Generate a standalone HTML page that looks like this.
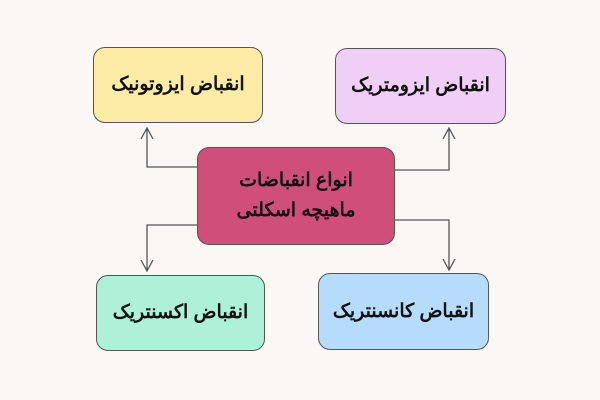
<!DOCTYPE html>
<html><head><meta charset="utf-8"><style>
body{margin:0;width:600px;height:400px;background:#fbf7f5;overflow:hidden;position:relative;font-family:"Liberation Sans","Noto Sans CJK SC",sans-serif}
.b{position:absolute;border:1.5px solid #555;border-radius:12px;display:flex;align-items:center;justify-content:center;text-align:center;font-weight:bold;font-size:19px;color:#111;direction:rtl;line-height:30px;box-sizing:border-box}
</style></head><body>
<svg width="600" height="400" style="position:absolute;left:0;top:0" fill="none" stroke="#555" stroke-width="1.3">
<path d="M197 167 H147 V128 M141 139 L147 128 L153 139"/>
<path d="M395 170 H449 V128 M443 139 L449 128 L455 139"/>
<path d="M197 225 H147 V271 M141 260 L147 271 L153 260"/>
<path d="M395 220 H449 V270 M443 259 L449 270 L455 259"/>
</svg>
<div class="b" style="left:93px;top:47px;width:170px;height:76px;background:#fdeca6">انقباض ایزوتونیک</div>
<div class="b" style="left:335px;top:48px;width:171px;height:76px;background:#efcff5">انقباض ایزومتریک</div>
<div class="b" style="left:197px;top:147px;width:198px;height:98px;background:#cf4e7a">انواع انقباضات<br>ماهیچه اسکلتی</div>
<div class="b" style="left:96px;top:275px;width:169px;height:76px;background:#aef1d9">انقباض اکسنتریک</div>
<div class="b" style="left:318px;top:273px;width:171px;height:77px;background:#b6dcfb">انقباض کانسنتریک</div>
</body></html>
